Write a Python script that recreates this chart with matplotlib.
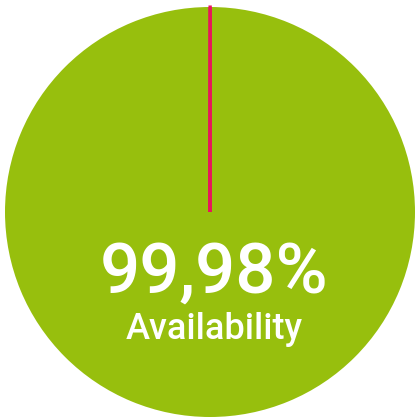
import matplotlib.pyplot as plt

# availability split (percent)
labels = ["Available", "Downtime"]
values = [99.98, 0.02]
colors = ["#97bf0d", "#e6175c"]
big_label = "99,98%"
sub_label = "Availability"

fig = plt.figure(figsize=(4.15, 4.19), dpi=100)
ax = fig.add_axes([5 / 415, 2 / 419, 410 / 415, 410 / 419])

wedges, _ = ax.pie(values, colors=colors, startangle=90, counterclock=True,
                   radius=1.0, wedgeprops=dict(linewidth=0))
# the downtime slice is too thin to see, give it an outline
wedges[1].set_edgecolor(colors[1])
wedges[1].set_linewidth(2.2)

ax.set_xlim(-1, 1)
ax.set_ylim(-1, 1)
ax.set_aspect("equal")
ax.axis("off")

font = ["Roboto", "DejaVu Sans"]
ax.text(0.02, -0.3, big_label, ha="center", va="center", color="white",
        fontsize=51, weight="medium", family=font)
ax.text(0.02, -0.575, sub_label, ha="center", va="center", color="white",
        fontsize=26, weight="medium", family=font)

fig.savefig("out.png", dpi=100)
